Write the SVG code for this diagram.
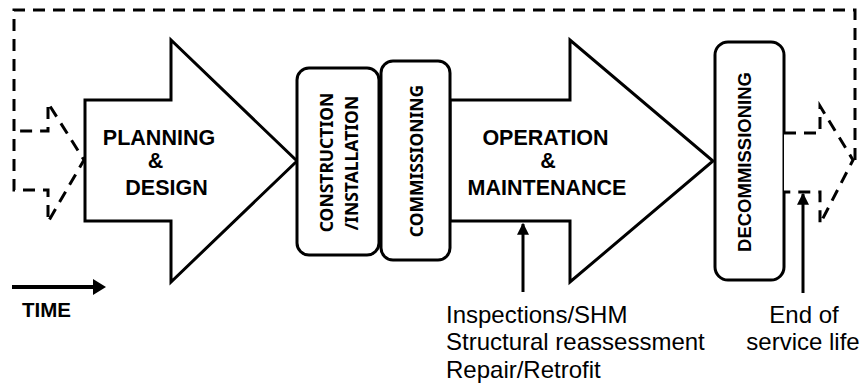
<svg xmlns="http://www.w3.org/2000/svg" width="866" height="387" viewBox="0 0 866 387">
  <defs>
    <style>
      .outline { fill: #fff; stroke: #000; stroke-width: 3; stroke-linejoin: miter; }
      .box { fill: #fff; stroke: #000; stroke-width: 3; }
      .dash { fill: none; stroke: #000; stroke-width: 3; stroke-dasharray: 12 8; }
      .dashfill { fill: #fff; stroke: #000; stroke-width: 3; stroke-dasharray: 12 8; }
      .ptr { stroke: #000; stroke-width: 3; fill: none; }
      .big { font-family: "Liberation Sans", Arial, sans-serif; font-weight: bold; font-size: 21.5px; text-anchor: middle; fill: #000; }
      .vert { font-family: "Noto Sans", "Open Sans", sans-serif; font-weight: bold; font-size: 17.5px; text-anchor: middle; fill: #000; }
      .vert2 { font-family: "Liberation Sans", Arial, sans-serif; font-weight: bold; font-size: 18.5px; text-anchor: middle; fill: #000; }
      .note { font-family: "Liberation Sans", Arial, sans-serif; font-size: 24px; fill: #000; }
    </style>
    <marker id="head" viewBox="0 0 10 10" refX="9" refY="5" markerWidth="4" markerHeight="4" orient="auto">
      <path d="M0,0 L10,5 L0,10 Z" fill="#000"/>
    </marker>
  </defs>

  <!-- feedback loop from end of life back to planning -->
  <g id="connectors">
    <path class="dash" d="M855,160 L855,10 L14,10 L14,190 L48,190 L48,222 L84,160 L48,103 L48,131 L14,131"/>
    <!-- inspection input -->
    <line class="ptr" x1="523" y1="292" x2="523" y2="224" marker-end="url(#head)"/>
    <!-- end-of-life input -->
    <line class="ptr" x1="803" y1="293" x2="803" y2="194" marker-end="url(#head)"/>
    <!-- time axis -->
    <line x1="12" y1="287" x2="96" y2="287" stroke="#000" stroke-width="4"/>
    <path d="M93,279 L106,287 L93,295 Z" fill="#000"/>
  </g>

  <g id="planning">
    <path class="outline" d="M85,100 L171,100 L171,40 L297,161 L171,282 L171,221 L85,221 Z"/>
    <text class="big" x="159" y="145">PLANNING</text>
    <text class="big" x="155.5" y="168">&amp;</text>
    <text class="big" x="166.5" y="195">DESIGN</text>
  </g>

  <g id="operation">
    <path class="outline" d="M450,100 L570,100 L570,40 L713,161 L570,282 L570,221 L450,221 Z"/>
    <text class="big" x="545.5" y="145">OPERATION</text>
    <text class="big" x="548" y="168">&amp;</text>
    <text class="big" x="547" y="195">MAINTENANCE</text>
  </g>

  <g id="construction">
    <rect class="box" x="297" y="68" width="82" height="187" rx="12"/>
    <text class="vert" transform="translate(333,162.5) rotate(-90)">CONSTRUCTION</text>
    <text class="vert" transform="translate(358,163) rotate(-90)">/INSTALLATION</text>
  </g>

  <g id="commissioning">
    <rect class="box" x="381" y="61" width="69" height="199" rx="12"/>
    <text class="vert" transform="translate(423,161) rotate(-90)">COMMISSIONING</text>
  </g>

  <g id="decommissioning">
    <rect class="box" x="715" y="42" width="69" height="238" rx="13"/>
    <text class="vert2" transform="translate(751,162) rotate(-90)">DECOMMISSIONING</text>
  </g>

  <g id="next-cycle">
    <path class="dashfill" d="M784,133 L820,133 L820,106 L853,160 L820,224 L820,192 L784,192"/>
  </g>

  <g id="time">
    <text x="22" y="317" font-family="'Liberation Sans', Arial, sans-serif" font-weight="bold" font-size="20.5">TIME</text>
  </g>

  <g id="om-notes">
    <text class="note" x="446" y="323">Inspections/SHM</text>
    <text class="note" x="446" y="350">Structural reassessment</text>
    <text class="note" x="446" y="378">Repair/Retrofit</text>
  </g>

  <g id="eol-notes">
    <text class="note" x="804" y="323" text-anchor="middle">End of</text>
    <text class="note" x="803" y="350" text-anchor="middle">service life</text>
  </g>
</svg>
